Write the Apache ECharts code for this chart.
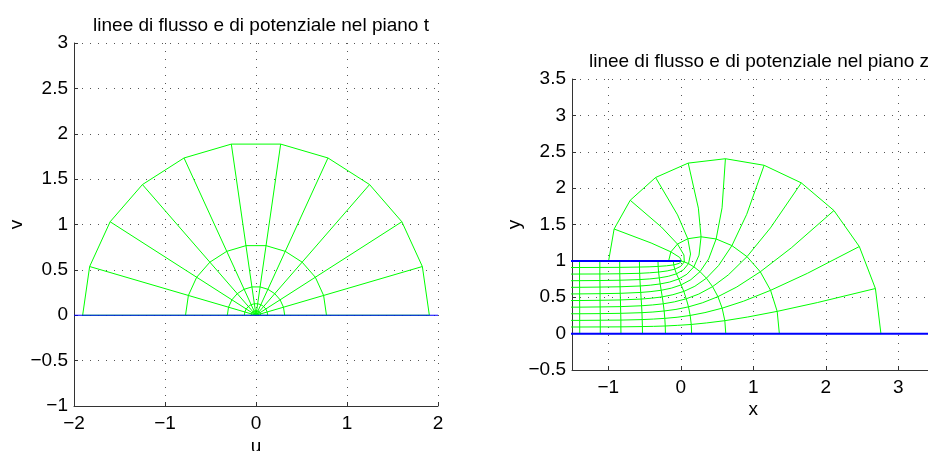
<!DOCTYPE html>
<html>
<head>
<meta charset="utf-8">
<script src="https://cdn.jsdelivr.net/npm/echarts@6/dist/echarts.min.js"></script>
<style>html,body{margin:0;padding:0;background:#fff}#c{width:928px;height:451px}</style>
</head>
<body>
<div id="c"></div>
<script>
// ---------- t plane (left) ----------
const tTitle = 'linee di flusso e di potenziale nel piano t';
const tXTicks = [-2, -1, 0, 1, 2];
const tYTicks = [-1, -0.5, 0, 0.5, 1, 1.5, 2, 2.5, 3];
const tOrigin = [0, 0];
// potential lines (semicircle polygons), outer to inner
const tArcs = [
  [[1.905,0],[1.828,0.537],[1.603,1.030],[1.248,1.440],[0.791,1.733],[0.271,1.886],[-0.271,1.886],[-0.791,1.733],[-1.248,1.440],[-1.603,1.030],[-1.828,0.537],[-1.905,0]],
  [[0.7745,0],[0.743,0.218],[0.652,0.419],[0.507,0.585],[0.322,0.704],[0.110,0.767],[-0.110,0.767],[-0.322,0.704],[-0.507,0.585],[-0.652,0.419],[-0.743,0.218],[-0.7745,0]],
  [[0.315,0],[0.302,0.0887],[0.265,0.170],[0.206,0.238],[0.131,0.286],[0.0448,0.312],[-0.0448,0.312],[-0.131,0.286],[-0.206,0.238],[-0.265,0.170],[-0.302,0.0887],[-0.315,0]],
  [[0.128,0],[0.1228,0.0361],[0.1077,0.0692],[0.0838,0.0967],[0.0532,0.1164],[0.0182,0.1267],[-0.0182,0.1267],[-0.0532,0.1164],[-0.0838,0.0967],[-0.1077,0.0692],[-0.1228,0.0361],[-0.128,0]],
  [[0.052,0],[0.0499,0.0146],[0.0437,0.0281],[0.0341,0.0393],[0.0216,0.0473],[0.0074,0.0515],[-0.0074,0.0515],[-0.0216,0.0473],[-0.0341,0.0393],[-0.0437,0.0281],[-0.0499,0.0146],[-0.052,0]],
  [[0.0212,0],[0.0203,0.006],[0.0178,0.0115],[0.0139,0.016],[0.0088,0.0193],[0.003,0.021],[-0.003,0.021],[-0.0088,0.0193],[-0.0139,0.016],[-0.0178,0.0115],[-0.0203,0.006],[-0.0212,0]]
];
// flow lines (rays) end on the outer arc vertices
const tRayEnds = tArcs[0];
const tWall = [[-2,0],[2,0]];

// ---------- z plane (right) ----------
const zTitle = 'linee di flusso e di potenziale nel piano z';
const zXTicks = [-1, 0, 1, 2, 3];
const zYTicks = [-0.5, 0, 0.5, 1, 1.5, 2, 2.5, 3, 3.5];
const zPotential = [
  [[2.761,0],[2.685,0.620],[2.463,1.197],[2.113,1.692],[1.663,2.072],[1.150,2.314],[0.616,2.404],[0.103,2.344],[-0.347,2.146],[-0.697,1.833],[-0.919,1.438],[-0.995,1]],
  [[1.360,0],[1.330,0.306],[1.239,0.595],[1.097,0.850],[0.914,1.058],[0.706,1.210],[0.488,1.301],[0.280,1.331],[0.097,1.304],[-0.045,1.231],[-0.136,1.124],[-0.167,1]],
  [[0.621,0],[0.608,0.178],[0.571,0.350],[0.513,0.508],[0.439,0.646],[0.354,0.762],[0.266,0.852],[0.181,0.918],[0.107,0.962],[0.049,0.986],[0.012,0.996],[0.000,1]],
  [[0.150,0],[0.145,0.126],[0.130,0.250],[0.107,0.368],[0.076,0.479],[0.042,0.580],[0.006,0.670],[-0.028,0.751],[-0.059,0.822],[-0.082,0.886],[-0.097,0.945],[-0.102,1]],
  [[-0.211,0],[-0.214,0.105],[-0.220,0.210],[-0.229,0.311],[-0.241,0.410],[-0.255,0.505],[-0.270,0.596],[-0.284,0.683],[-0.296,0.766],[-0.306,0.846],[-0.312,0.924],[-0.314,1]],
  [[-0.528,0],[-0.529,0.097],[-0.532,0.193],[-0.535,0.288],[-0.540,0.383],[-0.546,0.475],[-0.552,0.566],[-0.558,0.655],[-0.563,0.743],[-0.567,0.829],[-0.569,0.915],[-0.570,1]],
  [[-0.825,0],[-0.826,0.093],[-0.826,0.186],[-0.828,0.279],[-0.830,0.371],[-0.832,0.463],[-0.835,0.554],[-0.837,0.644],[-0.839,0.734],[-0.841,0.823],[-0.842,0.911],[-0.842,1]],
  [[-1.110,0],[-1.110,0.092],[-1.110,0.184],[-1.111,0.275],[-1.112,0.367],[-1.113,0.458],[-1.113,0.549],[-1.114,0.640],[-1.115,0.730],[-1.116,0.820],[-1.116,0.910],[-1.116,1]],
  [[-1.393,0],[-1.394,0.091],[-1.394,0.182],[-1.394,0.273],[-1.394,0.364],[-1.395,0.455],[-1.395,0.546],[-1.395,0.637],[-1.396,0.728],[-1.396,0.819],[-1.396,0.909],[-1.396,1]]
];
const zStream = [
  [[-1.68,0],[2.761,0]],
  [[-1.68,0.091],[-1.394,0.091],[-1.110,0.092],[-0.826,0.093],[-0.529,0.097],[-0.375,0.100],[-0.214,0.105],[-0.042,0.114],[0.145,0.126],[0.357,0.147],[0.608,0.178],[0.921,0.228],[1.330,0.306],[1.889,0.428],[2.685,0.620]],
  [[-1.68,0.182],[-1.394,0.182],[-1.110,0.184],[-0.826,0.186],[-0.532,0.193],[-0.378,0.200],[-0.220,0.210],[-0.051,0.225],[0.130,0.250],[0.334,0.289],[0.571,0.350],[0.864,0.445],[1.239,0.595],[1.747,0.829],[2.463,1.197]],
  [[-1.68,0.273],[-1.394,0.273],[-1.111,0.275],[-0.828,0.279],[-0.535,0.288],[-0.384,0.297],[-0.229,0.311],[-0.066,0.333],[0.107,0.368],[0.297,0.423],[0.513,0.508],[0.773,0.641],[1.097,0.850],[1.524,1.178],[2.113,1.692]],
  [[-1.68,0.364],[-1.394,0.364],[-1.112,0.367],[-0.830,0.371],[-0.540,0.383],[-0.392,0.394],[-0.241,0.410],[-0.086,0.437],[0.076,0.479],[0.249,0.544],[0.439,0.646],[0.656,0.807],[0.914,1.058],[1.237,1.453],[1.663,2.072]],
  [[-1.68,0.455],[-1.395,0.455],[-1.113,0.458],[-0.832,0.463],[-0.546,0.475],[-0.401,0.487],[-0.255,0.505],[-0.108,0.535],[0.042,0.580],[0.195,0.651],[0.354,0.762],[0.523,0.937],[0.706,1.210],[0.910,1.640],[1.150,2.314]],
  [[-1.68,0.545],[-1.395,0.546],[-1.113,0.549],[-0.835,0.554],[-0.552,0.566],[-0.411,0.578],[-0.270,0.596],[-0.130,0.625],[0.006,0.670],[0.139,0.741],[0.266,0.852],[0.385,1.027],[0.488,1.301],[0.570,1.730],[0.616,2.404]],
  [[-1.68,0.636],[-1.395,0.637],[-1.114,0.640],[-0.837,0.644],[-0.558,0.655],[-0.419,0.666],[-0.284,0.683],[-0.152,0.709],[-0.028,0.751],[0.085,0.816],[0.181,0.918],[0.252,1.079],[0.280,1.331],[0.243,1.725],[0.103,2.344]],
  [[-1.68,0.727],[-1.396,0.728],[-1.115,0.730],[-0.839,0.734],[-0.563,0.743],[-0.427,0.752],[-0.296,0.766],[-0.172,0.788],[-0.059,0.822],[0.037,0.877],[0.107,0.962],[0.135,1.095],[0.097,1.304],[-0.044,1.632],[-0.347,2.146]],
  [[-1.68,0.818],[-1.396,0.819],[-1.116,0.820],[-0.841,0.823],[-0.567,0.829],[-0.433,0.836],[-0.306,0.846],[-0.187,0.862],[-0.082,0.886],[0.000,0.925],[0.049,0.986],[0.044,1.081],[-0.045,1.231],[-0.267,1.465],[-0.697,1.833]],
  [[-1.68,0.909],[-1.396,0.909],[-1.116,0.910],[-0.842,0.911],[-0.569,0.915],[-0.437,0.918],[-0.312,0.924],[-0.196,0.932],[-0.097,0.945],[-0.023,0.965],[0.012,0.996],[-0.013,1.046],[-0.136,1.124],[-0.409,1.246],[-0.919,1.438]],
  [[-1.68,1],[0,1],[-0.995,1]]
];
const zWallBottom = [[-1.68,0],[3.8,0]];
const zWallTop = [[-1.68,1],[0,1]];

// ---------- styling ----------
const FONT = 'Liberation Sans, Arial, Helvetica, sans-serif';
const FS = 19;
const GREEN = '#00ff00';
const BLUE = '#0000ff';
const fmt = v => String(v).replace('-', '\u2212');

function axisCommon(extra) {
  return Object.assign({
    type: 'value',
    axisLine: { show: true, onZero: false, lineStyle: { color: '#333', width: 1 } },
    axisTick: { show: true, inside: true, length: 4, lineStyle: { color: '#333' } },
    axisLabel: { color: '#000', fontFamily: FONT, fontSize: FS, formatter: fmt },
    splitLine: { show: true, lineStyle: { color: '#555', width: 1, type: [1, 7] } },
    nameTextStyle: { color: '#000', fontFamily: FONT, fontSize: FS }
  }, extra);
}

function line(data, color, width, gi) {
  return {
    type: 'line', data: data, xAxisIndex: gi, yAxisIndex: gi,
    showSymbol: false, symbol: 'none', silent: true, animation: false,
    lineStyle: { color: color, width: width }, clip: true, z: color === BLUE ? 3 : 2
  };
}

const series = [];
tRayEnds.forEach(p => series.push(line([tOrigin, p], GREEN, 1, 0)));
tArcs.forEach(a => series.push(line(a, GREEN, 1, 0)));
series.push(line(tWall, BLUE, 1, 0));
zStream.forEach(s => series.push(line(s, GREEN, 1, 1)));
zPotential.forEach(a => series.push(line(a, GREEN, 1, 1)));
series.push(line(zWallBottom, BLUE, 2, 1));
series.push(line(zWallTop, BLUE, 2, 1));

const option = {
  backgroundColor: '#fff',
  animation: false,
  title: [
    { text: tTitle, left: 256, top: 11, textAlign: 'center', textStyle: { fontFamily: FONT, fontSize: FS, fontWeight: 'normal', color: '#000' } },
    { text: zTitle, left: 754, top: 47, textAlign: 'center', textStyle: { fontFamily: FONT, fontSize: FS, fontWeight: 'normal', color: '#000' } }
  ],
  grid: [
    { left: 74, top: 43, width: 364, height: 363, outerBoundsMode: 'none', containLabel: false },
    { left: 572, top: 79, width: 362.5, height: 291, outerBoundsMode: 'none', containLabel: false }
  ],
  xAxis: [
    axisCommon({ gridIndex: 0, min: tXTicks[0], max: tXTicks[tXTicks.length - 1], interval: 1, name: 'u', nameLocation: 'middle', nameGap: 31, nameMoveOverlap: false,
      axisLabel: { color: '#000', fontFamily: FONT, fontSize: FS, formatter: fmt, margin: 8 } }),
    axisCommon({ gridIndex: 1, min: -1.5, max: 3.5, name: 'x', nameLocation: 'middle', nameGap: 30, nameMoveOverlap: false,
      axisLabel: { color: '#000', fontFamily: FONT, fontSize: FS, formatter: fmt, margin: 8, customValues: zXTicks },
      axisTick: { show: true, inside: true, length: 4, lineStyle: { color: '#333' }, customValues: zXTicks } })
  ],
  yAxis: [
    axisCommon({ gridIndex: 0, min: tYTicks[0], max: tYTicks[tYTicks.length - 1], interval: 0.5, name: 'v', nameLocation: 'middle', nameGap: 48, nameRotate: 90,
      axisLabel: { color: '#000', fontFamily: FONT, fontSize: FS, formatter: fmt, margin: 6 } }),
    axisCommon({ gridIndex: 1, min: zYTicks[0], max: zYTicks[zYTicks.length - 1], interval: 0.5, name: 'y', nameLocation: 'middle', nameGap: 48, nameRotate: 90,
      axisLabel: { color: '#000', fontFamily: FONT, fontSize: FS, formatter: fmt, margin: 6 } })
  ],
  series: series
};

const chart = echarts.init(document.getElementById('c'), null, { renderer: 'canvas' });
chart.setOption(option);
</script>
</body>
</html>
